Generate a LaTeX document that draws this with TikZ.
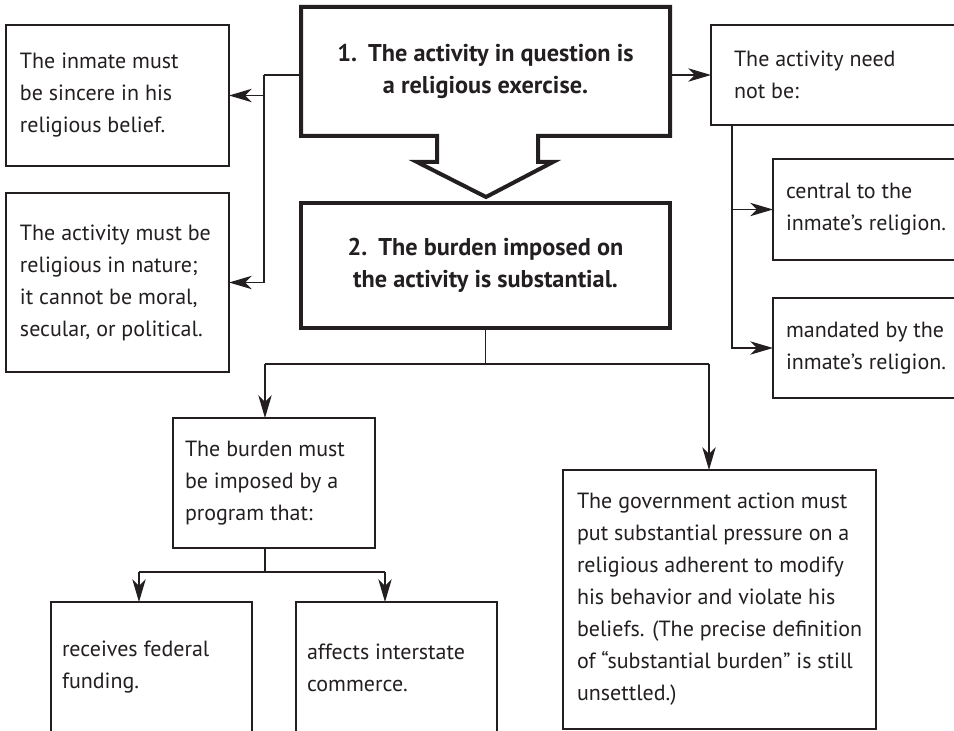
\documentclass[tikz,border=0pt]{standalone}
\usepackage{fontspec}
\setmainfont{PT Sans}
\usetikzlibrary{arrows.meta}
\definecolor{ink}{HTML}{231F20}
\newdimen\px \px=0.75pt
\newcommand\txt[4]{\parbox[c][#2\px][c]{#1\px}{\leftskip=#3\px\rightskip=-200\px plus 1fil\parindent=0pt\parfillskip=0pt plus 1fil\fontsize{16.5}{24}\selectfont\color{ink}#4\par}}
\newcommand\btxt[3]{\parbox[c][#2\px][c]{#1\px}{\centering\fontsize{18.2}{24}\selectfont\bfseries\color{ink}#3\par}}
\tikzset{
  bx/.style={draw=ink, line width=1.1pt, inner sep=0pt, outer sep=0pt, anchor=north west},
  bigbx/.style={draw=ink, line width=3pt, inner sep=0pt, outer sep=0pt, anchor=north west},
  ln/.style={draw=ink, line width=1pt},
  arr/.style={draw=ink, line width=1pt, -{Stealth[length=17pt,width=10pt,inset=5pt]}},
}
\begin{document}
\begin{tikzpicture}[x=0.75pt,y=-0.75pt]
\useasboundingbox (0,0) rectangle (954,731);
\clip (0,0) rectangle (954,731);
% left boxes
\node[bx] (A) at (6,25) {\txt{223}{141}{14}{The inmate must\\ be sincere in his\\ religious belief.}};
\node[bx] (B) at (6,193) {\txt{223}{179}{14}{The activity must be\\ religious in nature;\\ it cannot be moral,\\ secular, or political.}};
% main boxes
\node[inner sep=0pt, outer sep=0pt, anchor=north west] (b1) at (301,7) {\btxt{369}{129}{1.\hspace{0.45em}The activity in question is\\ a religious exercise.}};
\draw[draw=ink, line width=3pt, line join=miter] (b1.south west) -- (b1.north west) -- (b1.north east) -- (b1.south east) -- (538,136) -- (538,162) -- (553,162) -- (486,197) -- (417,162) -- (437,162) -- (437,136) -- cycle;
\node[bigbx] (b2) at (301,203) {\btxt{369}{125}{2.\hspace{0.45em}The burden imposed on\\ the activity is substantial.}};
% right boxes
\node[bx] (C) at (711,25) {\txt{300}{100}{23}{The activity need\\ not be:}};
\node[bx] (D) at (773,159) {\txt{300}{101}{13}{central to the\\ inmate's religion.}};
\node[bx] (E) at (773,298) {\txt{300}{100}{13}{mandated by the\\ inmate's religion.}};
% lower boxes
\node[bx] (F) at (173,418) {\txt{202}{130}{12}{The burden must\\ be imposed by a\\ program that:}};
\node[bx] (G) at (563,470) {\txt{313}{259}{14}{The government action must\\ put substantial pressure on a\\ religious adherent to modify\\ his behavior and violate his\\ beliefs. (The precise definition\\ of ``substantial burden'' is still\\ unsettled.)}};
\node[bx] (H) at (51,602) {\txt{201}{131}{11}{receives federal\\ funding.}};
\node[bx] (I) at (296,602) {\txt{201}{131}{11}{affects interstate\\ commerce.}};
% junctions
\coordinate (jl) at (264,75);
\coordinate (jr) at (732,125);
\coordinate (fl) at (265,364);
\coordinate (gr) at (709,364);
\coordinate (hl) at (139,572);
\coordinate (ir) at (385,572);
% connectors
\draw[ln] (b1.west |- jl) -- (jl);
\draw[arr] (jl) |- (A.east);
\draw[arr] (jl) |- (B.east);
\draw[arr] (b1.east |- C.west) -- (C.west);
\draw[arr] (jr) |- (D.west);
\draw[arr] (jr) |- (E.west);
\draw[ln] (b2.south) |- (fl);
\draw[ln] (b2.south) |- (gr);
\draw[arr] (fl) -- (fl |- F.north);
\draw[arr] (gr) -- (gr |- G.north);
\draw[ln] (fl |- F.south) -- (fl |- hl);
\draw[ln] (hl) -- (ir);
\draw[arr] (hl) -- (hl |- H.north);
\draw[arr] (ir) -- (ir |- I.north);
\end{tikzpicture}
\end{document}
